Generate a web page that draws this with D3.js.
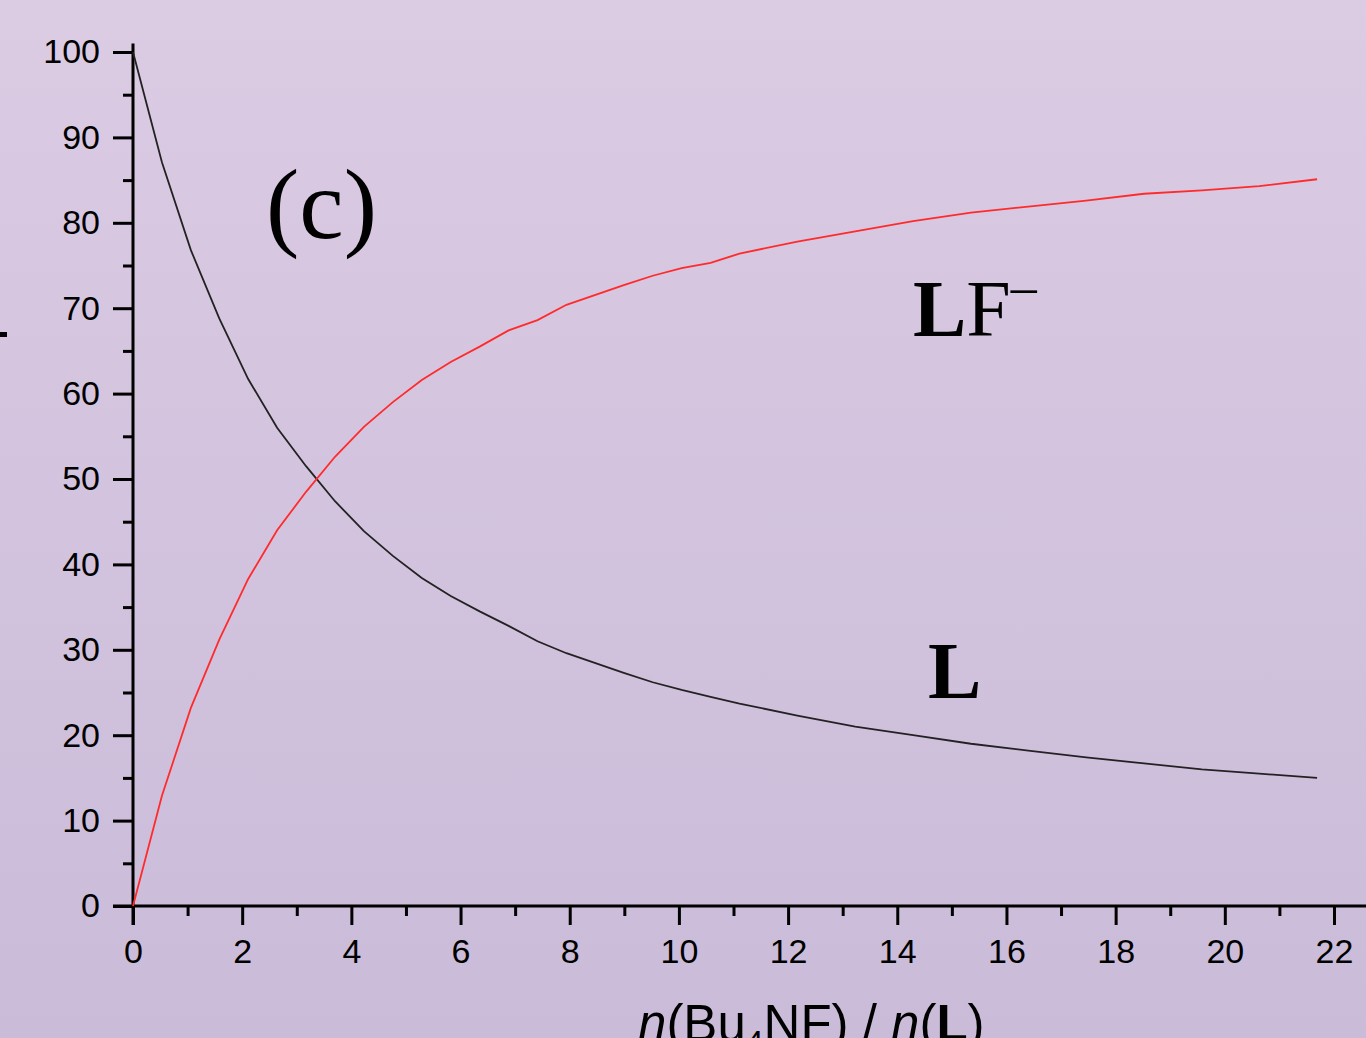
<!DOCTYPE html>
<html>
<script src='https://d3js.org/d3.v7.min.js'></script>
<style>
body {margin: 0; overflow: hidden;}
.tick text {font-family: 'Liberation Sans', Arial, sans-serif; font-size: 34px; fill: black;}
.tick line {stroke: black; stroke-width: 3;}
</style>
<body onload='init()'>
<script>
// ratio n(Bu4NF)/n(L)
var ratio = [0, 0.53, 1.06, 1.58, 2.11, 2.64, 3.17, 3.70, 4.23, 4.76, 5.29, 5.82, 6.35, 6.88, 7.41, 7.94,
  8.99, 9.52, 10.05, 10.58, 11.11, 12.17, 13.23, 14.29, 15.35, 16.40, 17.46, 18.52, 19.58, 20.63, 21.69];
// % free ligand L
var freeL = [100, 87.1, 76.8, 68.8, 61.7, 56.0, 51.5, 47.4, 43.9, 41.0, 38.4, 36.3, 34.5, 32.8, 31.0, 29.6,
  27.3, 26.2, 25.3, 24.5, 23.7, 22.3, 21.0, 20.0, 19.0, 18.2, 17.4, 16.7, 16.0, 15.5, 15.0];
// % complex LF-
var complexLF = [0, 12.9, 23.2, 31.2, 38.3, 44.0, 48.5, 52.6, 56.1, 59.0, 61.6, 63.7, 65.5, 67.4, 68.6, 70.4,
  72.7, 73.8, 74.7, 75.3, 76.4, 77.8, 79.0, 80.2, 81.2, 81.9, 82.6, 83.4, 83.8, 84.3, 85.1];
var xTicks = [0, 2, 4, 6, 8, 10, 12, 14, 16, 18, 20, 22];
var xMinor = [1, 3, 5, 7, 9, 11, 13, 15, 17, 19, 21];
var yTicks = [0, 10, 20, 30, 40, 50, 60, 70, 80, 90, 100];
var yMinor = [5, 15, 25, 35, 45, 55, 65, 75, 85, 95];

function init() {
var W = 1366, H = 1038;
var x = d3.scaleLinear().domain([0, 22]).range([133, 1334]);
var y = d3.scaleLinear().domain([0, 100]).range([906, 52]);

var svg = d3.select('body').append('svg')
  .attr('width', W)
  .attr('height', H);

// background gradient
var grad = svg.append('defs').append('linearGradient')
  .attr('id', 'bg')
  .attr('x1', 0).attr('y1', 0).attr('x2', 0).attr('y2', 1);
grad.append('stop').attr('offset', '0%').attr('stop-color', '#dbcbe3');
grad.append('stop').attr('offset', '100%').attr('stop-color', '#cabbd9');
svg.append('rect').attr('width', W).attr('height', H).attr('fill', 'url(#bg)');

// minor ticks
svg.append('g')
  .attr('transform', 'translate(' + x(0) + ',0)')
  .call(d3.axisLeft(y).tickValues(yMinor).tickSize(10).tickFormat(''))
  .select('.domain').remove();
svg.append('g')
  .attr('transform', 'translate(0,' + y(0) + ')')
  .call(d3.axisBottom(x).tickValues(xMinor).tickSize(10).tickFormat(''))
  .select('.domain').remove();

// major ticks
svg.append('g')
  .attr('transform', 'translate(' + x(0) + ',0)')
  .call(d3.axisLeft(y).tickValues(yTicks).tickSize(20).tickPadding(13))
  .select('.domain').remove();
svg.append('g')
  .attr('transform', 'translate(0,' + y(0) + ')')
  .call(d3.axisBottom(x).tickValues(xTicks).tickSize(19).tickPadding(14))
  .select('.domain').remove();

// axis lines
svg.append('line')
  .attr('x1', x(0)).attr('x2', x(0))
  .attr('y1', y(101)).attr('y2', y(0) + 19)
  .attr('stroke', 'black').attr('stroke-width', 3);
svg.append('line')
  .attr('x1', x(0) - 20).attr('x2', W)
  .attr('y1', y(0)).attr('y2', y(0))
  .attr('stroke', 'black').attr('stroke-width', 3);

// curves
var lineL = d3.line()
  .x(function(d, i) { return x(ratio[i]); })
  .y(function(d) { return y(d); });

svg.append('path')
  .datum(freeL)
  .attr('d', lineL)
  .attr('fill', 'none')
  .attr('stroke', '#222')
  .attr('stroke-width', 1.8);

svg.append('path')
  .datum(complexLF)
  .attr('d', lineL)
  .attr('fill', 'none')
  .attr('stroke', '#ff2b2b')
  .attr('stroke-width', 1.8);

// labels
svg.append('text')
  .attr('x', 266)
  .attr('y', 238)
  .style('font-family', "'Liberation Serif', 'Times New Roman', serif")
  .style('font-size', '100px')
  .text('(c)');

var lf = svg.append('text')
  .attr('x', 913)
  .attr('y', 336)
  .style('font-family', "'Liberation Serif', 'Times New Roman', serif")
  .style('font-size', '80px');
lf.append('tspan').style('font-weight', 'bold').text('L');
lf.append('tspan').text('F');
lf.append('tspan').attr('dy', -32).style('font-size', '52px').text('\u2013');

svg.append('text')
  .attr('x', 928)
  .attr('y', 698)
  .style('font-family', "'Liberation Serif', 'Times New Roman', serif")
  .style('font-size', '80px')
  .style('font-weight', 'bold')
  .text('L');

var xl = svg.append('text')
  .attr('x', 638)
  .attr('y', 1041)
  .style('font-family', "'Liberation Sans', Arial, sans-serif")
  .style('font-size', '51px');
xl.append('tspan').style('font-style', 'italic').text('n');
xl.append('tspan').text('(Bu');
xl.append('tspan').attr('dy', 12).style('font-size', '32px').text('4');
xl.append('tspan').attr('dy', -12).text('NF) / ');
xl.append('tspan').style('font-style', 'italic').text('n');
xl.append('tspan').text('(');
xl.append('tspan').style('font-weight', 'bold').text('L');
xl.append('tspan').text(')');

// cut-off fragment of the y label at the left edge
svg.append('line')
  .attr('x1', 0).attr('x2', 7)
  .attr('y1', 334.5).attr('y2', 334.5)
  .attr('stroke', 'black').attr('stroke-width', 5);
}
</script>
</body>
</html>
